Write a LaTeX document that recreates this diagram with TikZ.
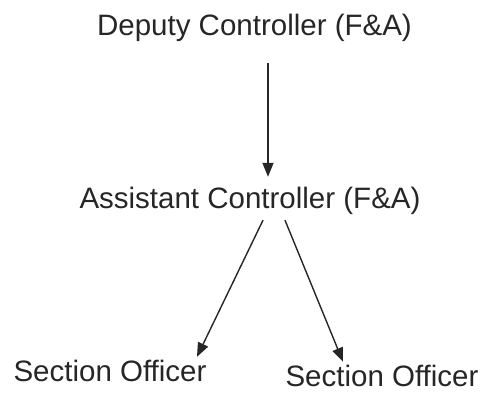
\documentclass[tikz,border=0pt]{standalone}
\usepackage{fontspec}
\setmainfont{Liberation Sans}
\usetikzlibrary{arrows.meta}
\begin{document}
\begin{tikzpicture}[x=1pt,y=1pt,
  lbl/.style={inner sep=0pt,anchor=base,text height=21pt,text depth=6pt,
    font=\fontsize{29.5}{32}\selectfont,text=black!85},
  arr/.style={draw=black!85,line width=1.4pt,-{Triangle[length=14pt,width=11pt]}}]
\useasboundingbox (0,0) rectangle (483,399);
\node[lbl] (dep) at (254.5,363) {Deputy Controller (F\&A)};
\node[lbl] (asst) at (250,190) {Assistant Controller (F\&A)};
\node[lbl] (so1) at (110,17) {Section Officer};
\node[lbl] (so2) at (382,12) {Section Officer};
\draw[arr] ([shift={(13.5,-21)}]dep.south) -- ([shift={(18,11)}]asst.north);
\draw[arr] ([shift={(13,-5)}]asst.south) -- ([shift={(87,4)}]so1.north);
\draw[arr] ([shift={(35,-5)}]asst.south) -- ([shift={(-39,4)}]so2.north);
\end{tikzpicture}
\end{document}
